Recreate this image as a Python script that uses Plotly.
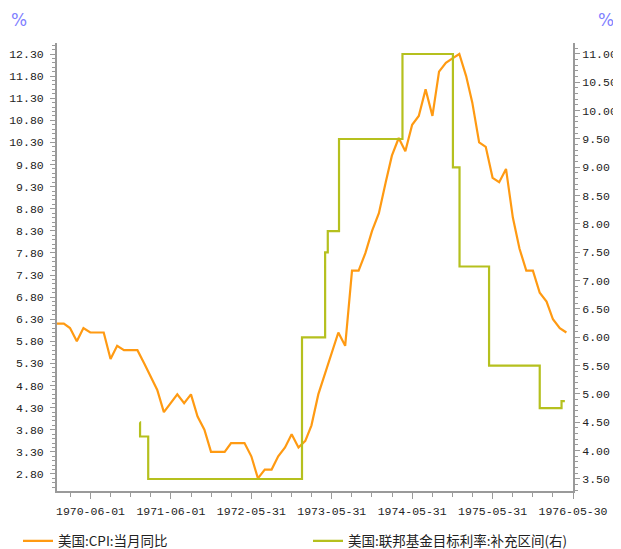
import pandas as pd
import plotly.graph_objects as go

# US CPI YoY (%), monthly, Dec 1969 - Apr 1976 (month-end dates)
cpi_start = "1969-12-31"
cpi_values = [
    6.2,
    6.2, 6.1, 5.8, 6.1, 6.0, 6.0, 6.0, 5.4, 5.7, 5.6, 5.6, 5.6,
    5.3, 5.0, 4.7, 4.2, 4.4, 4.6, 4.4, 4.6, 4.1, 3.8, 3.3, 3.3,
    3.3, 3.5, 3.5, 3.5, 3.2, 2.7, 2.9, 2.9, 3.2, 3.4, 3.7, 3.4,
    3.55, 3.9, 4.6, 5.05, 5.5, 6.0, 5.7, 7.4, 7.4, 7.8, 8.3, 8.7,
    9.4, 10.0, 10.4, 10.1, 10.7, 10.9, 11.5, 10.9, 11.9, 12.1, 12.2, 12.3,
    11.8, 11.2, 10.3, 10.2, 9.5, 9.4, 9.7, 8.6, 7.9, 7.4, 7.4, 6.9,
    6.7, 6.3, 6.1, 6.0,
]
cpi_dates = pd.date_range(cpi_start, periods=len(cpi_values), freq="ME")

# Fed funds target rate (supplementary range), step series
ff_dates = [
    "1971-01-11", "1971-01-12", "1971-02-18", "1973-01-16", "1973-05-01",
    "1973-05-13", "1973-07-03", "1974-04-17", "1974-12-02", "1975-01-01",
    "1975-05-15", "1975-12-31", "1976-04-08", "1976-04-23",
]
ff_values = [
    4.5, 4.25, 3.5, 6.0, 7.5,
    7.875, 9.5, 11.0, 9.0, 7.25,
    5.5, 4.75, 4.875, 4.875,
]

x_tick_labels = ["1970-06-01", "1971-06-01", "1972-05-31", "1973-05-31",
                 "1974-05-31", "1975-05-31", "1976-05-30"]
x_range = ["1969-12-31", "1976-05-30"]

cpi_name = "美国:CPI:当月同比"
ff_name = "美国:联邦基金目标利率:补充区间(右)"

ORANGE = "#FF9A12"
GREEN = "#B5C01E"
AXIS = "#9A9A9A"
TICKFONT = dict(family="Liberation Mono, DejaVu Sans Mono, monospace", size=11.5, color="#222222")
LEGFONT = dict(family="Noto Sans CJK SC", size=13.5, color="#222222")

# page has an 8px body margin, so the figure is 8px smaller than the window
W, H = 613, 541

fig = go.Figure()
fig.add_trace(go.Scatter(
    x=cpi_dates, y=cpi_values, name=cpi_name, mode="lines",
    line=dict(color=ORANGE, width=2.2), yaxis="y", legend="legend",
))
fig.add_trace(go.Scatter(
    x=pd.to_datetime(ff_dates), y=ff_values, name=ff_name, mode="lines",
    line=dict(color=GREEN, width=2.2, shape="hv"), yaxis="y2", legend="legend2",
))

DAY_MS = 86400000

fig.update_layout(
    width=W, height=H,
    margin=dict(l=49, r=48, t=35, b=58, autoexpand=False),
    paper_bgcolor="white", plot_bgcolor="white",
    showlegend=True,
    legend=dict(
        orientation="h", x=10 / W, xref="container", y=8 / H, yref="container",
        xanchor="left", yanchor="middle", font=LEGFONT,
        itemwidth=30, bgcolor="rgba(0,0,0,0)",
    ),
    legend2=dict(
        orientation="h", x=300 / W, xref="container", y=8 / H, yref="container",
        xanchor="left", yanchor="middle", font=LEGFONT,
        itemwidth=30, bgcolor="rgba(0,0,0,0)",
    ),
    xaxis=dict(
        type="date", range=x_range, automargin=False,
        tickmode="array", tickvals=x_tick_labels, ticktext=x_tick_labels,
        showline=True, linecolor=AXIS, linewidth=2, mirror=False,
        ticks="outside", ticklen=6, tickwidth=1, tickcolor=AXIS,
        ticklabelstandoff=2,
        minor=dict(ticks="outside", ticklen=4, tickcolor=AXIS, tickwidth=1,
                   tickmode="linear", tick0="1970-06-01", dtick=91.25 * DAY_MS,
                   showgrid=False),
        showgrid=False, zeroline=False, tickfont=TICKFONT,
    ),
    yaxis=dict(
        range=[2.415, 12.549], tickmode="linear", tick0=2.8, dtick=0.5,
        tickformat=".2f", automargin=False,
        showline=True, linecolor=AXIS, linewidth=2,
        ticks="outside", ticklen=5, tickwidth=1, tickcolor=AXIS,
        ticklabelstandoff=4,
        minor=dict(ticks="outside", ticklen=3, tickcolor=AXIS, tickwidth=1,
                   tickmode="linear", tick0=2.8, dtick=0.1, showgrid=False),
        showgrid=False, zeroline=False, tickfont=TICKFONT,
    ),
    yaxis2=dict(
        range=[3.288, 11.194], tickmode="linear", tick0=3.5, dtick=0.5,
        tickformat=".2f", overlaying="y", side="right", automargin=False,
        showline=True, linecolor=AXIS, linewidth=2,
        ticks="outside", ticklen=5, tickwidth=1, tickcolor=AXIS,
        ticklabelstandoff=0,
        minor=dict(ticks="outside", ticklen=3, tickcolor=AXIS, tickwidth=1,
                   tickmode="linear", tick0=3.5, dtick=0.1, showgrid=False),
        showgrid=False, zeroline=False, tickfont=TICKFONT,
    ),
    annotations=[
        dict(text="%", xref="paper", yref="paper", x=0, y=1, xanchor="center",
             yanchor="middle", xshift=-38, yshift=23, showarrow=False,
             font=dict(family="DejaVu Sans", size=17, color="#7F7FFF")),
        dict(text="%", xref="paper", yref="paper", x=1, y=1, xanchor="center",
             yanchor="middle", xshift=33, yshift=23, showarrow=False,
             font=dict(family="DejaVu Sans", size=17, color="#7F7FFF")),
    ],
)

fig.write_html("out.html")
